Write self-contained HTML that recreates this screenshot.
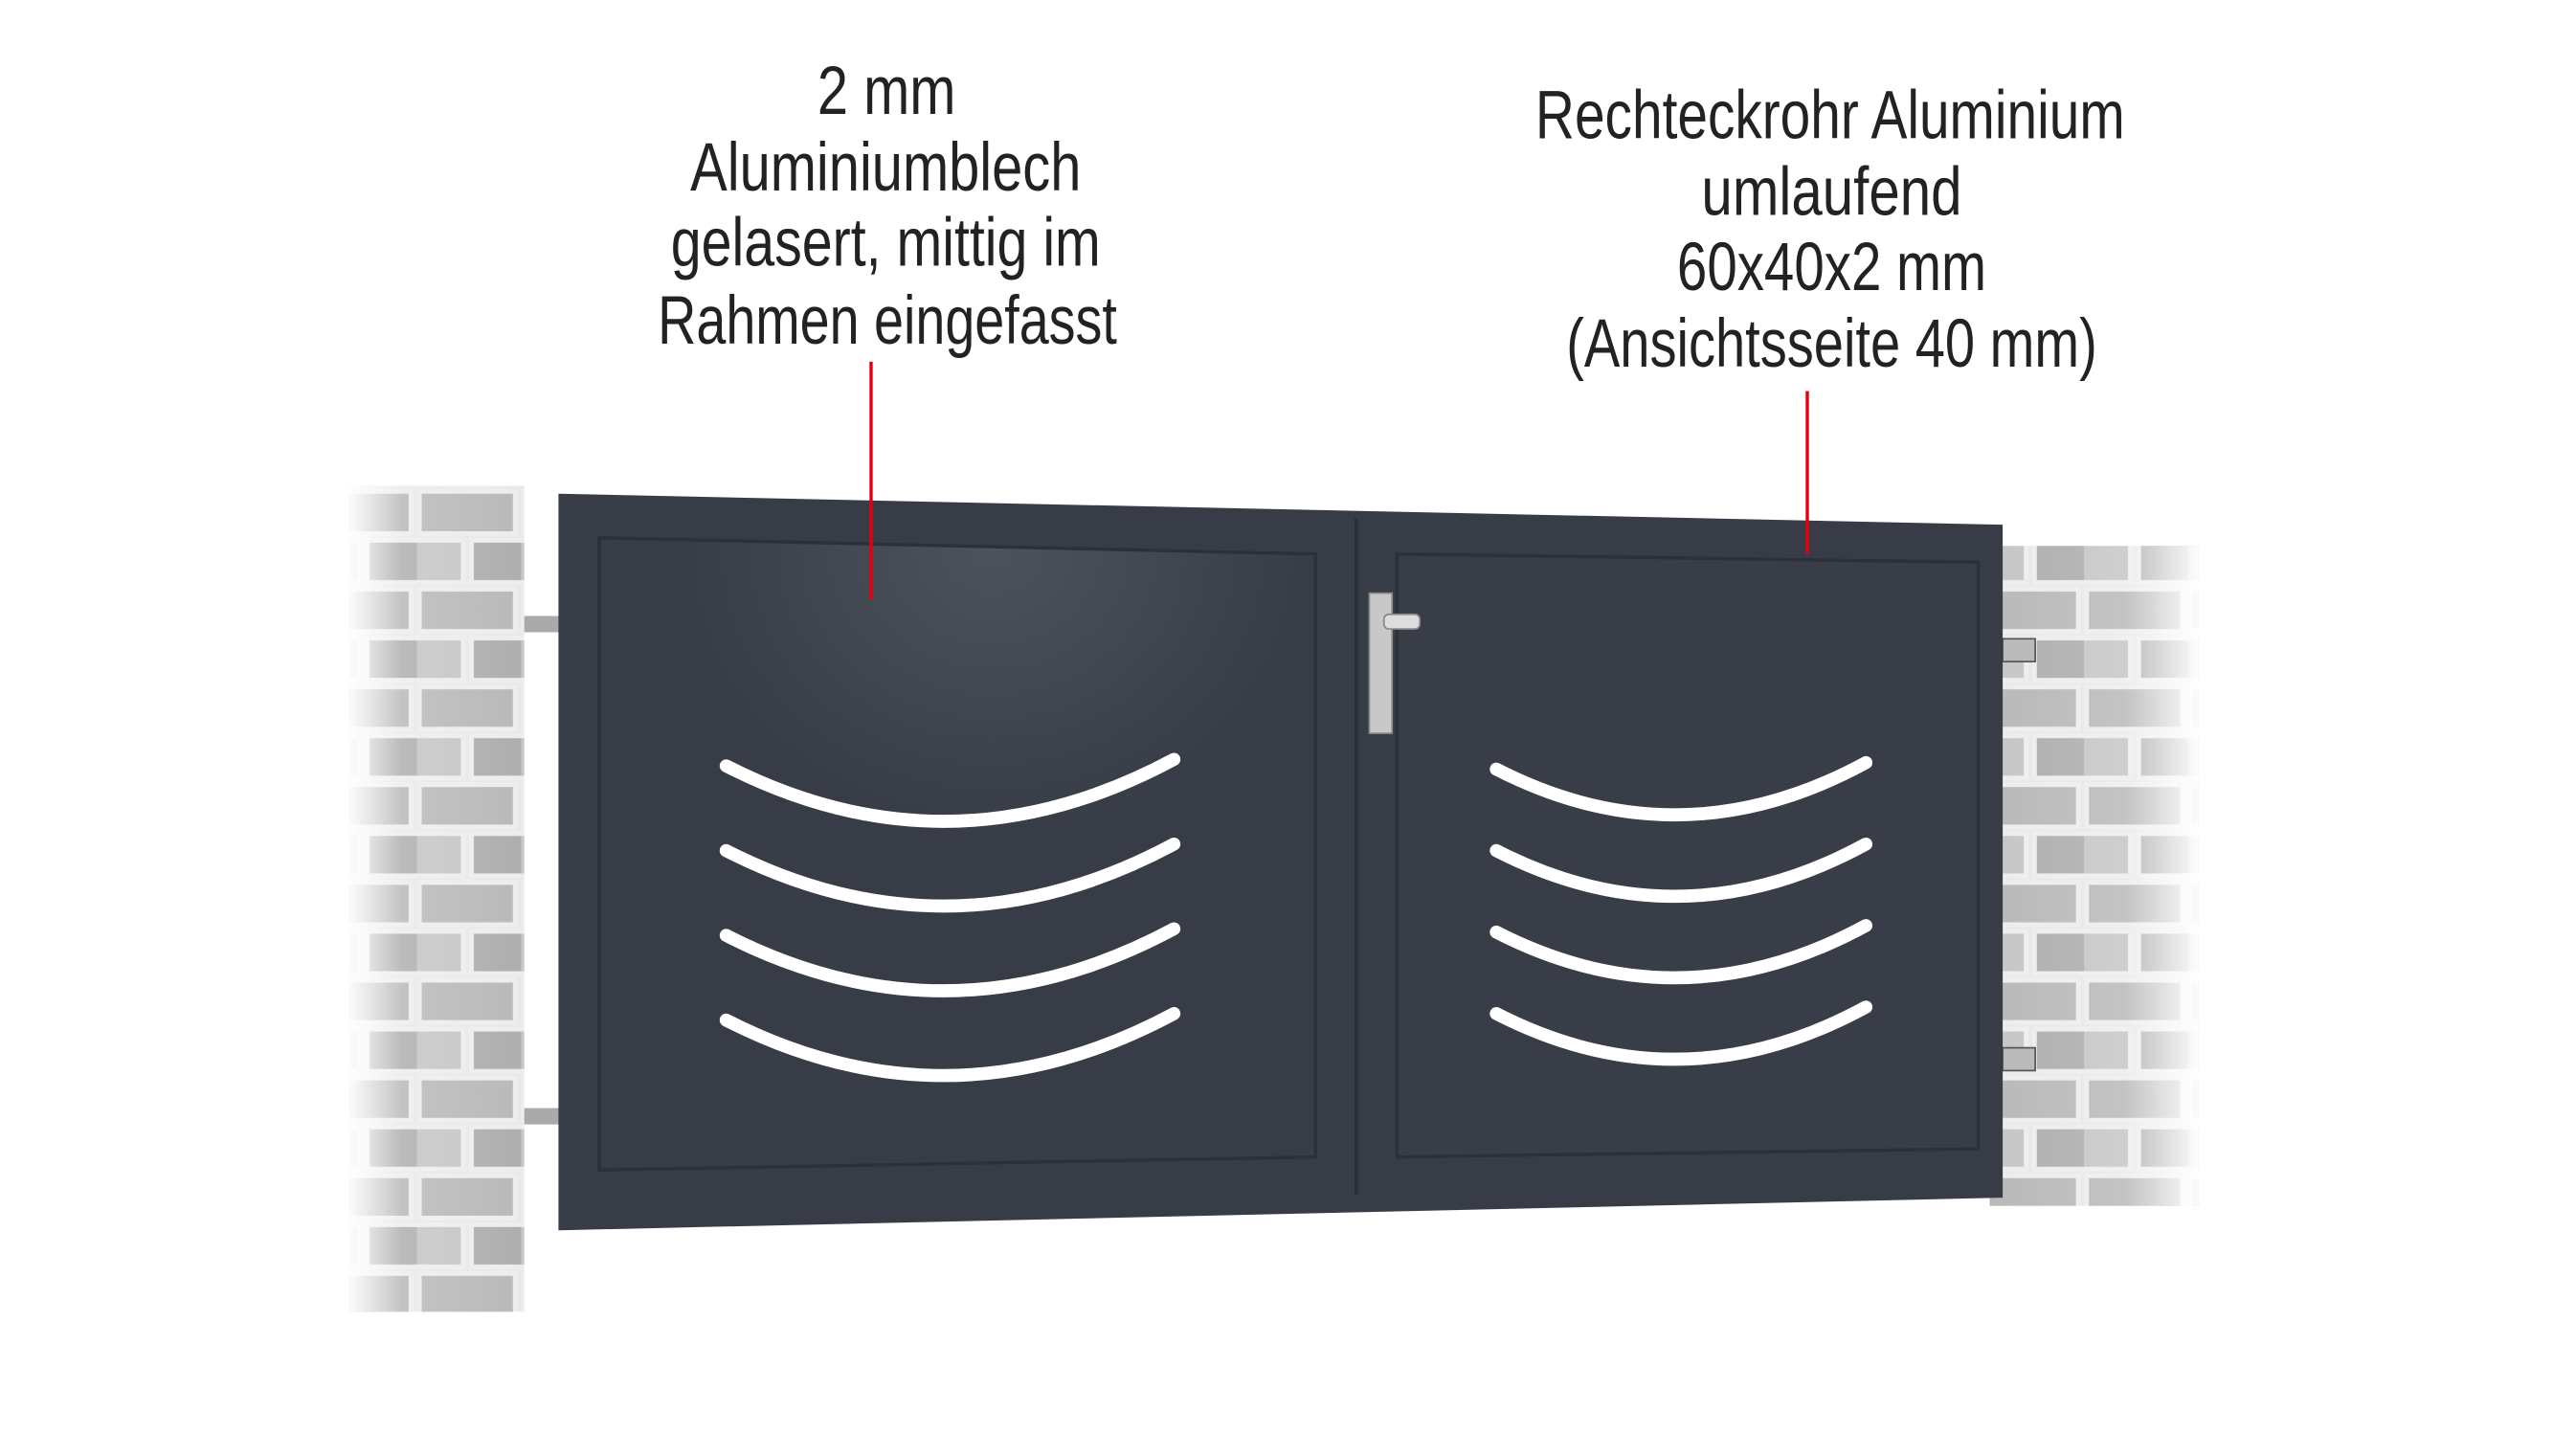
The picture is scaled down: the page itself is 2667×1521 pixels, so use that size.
<!DOCTYPE html>
<html><head><meta charset="utf-8">
<style>
html,body{margin:0;padding:0;background:#fff;}
svg{display:block}
text{font-family:"Liberation Sans",sans-serif;fill:#222;}
</style></head>
<body>
<svg width="2667" height="1521" viewBox="0 0 1568 893.5" preserveAspectRatio="none" xmlns="http://www.w3.org/2000/svg">
<defs>
<pattern id="brick" width="64" height="60" patternUnits="userSpaceOnUse">
<rect width="64" height="60" fill="#e8e8e8"/>
<rect x="1.5" y="1.5" width="59" height="26" fill="#b9b9b9" stroke="#ededed" stroke-width="3"/>
<rect x="-30.5" y="31.5" width="59" height="26" fill="#c6c6c6" stroke="#ededed" stroke-width="3"/>
<rect x="33.5" y="31.5" width="59" height="26" fill="#aeaeae" stroke="#ededed" stroke-width="3"/>
</pattern>
<linearGradient id="fadeL" x1="0" x2="1" y1="0" y2="0">
<stop offset="0" stop-color="#fff" stop-opacity="0.95"/>
<stop offset="0.3" stop-color="#fff" stop-opacity="0.15"/>
<stop offset="1" stop-color="#fff" stop-opacity="0"/>
</linearGradient>
<linearGradient id="fadeR" x1="1" x2="0" y1="0" y2="0">
<stop offset="0" stop-color="#fff" stop-opacity="0.95"/>
<stop offset="0.35" stop-color="#fff" stop-opacity="0.15"/>
<stop offset="1" stop-color="#fff" stop-opacity="0"/>
</linearGradient>
<radialGradient id="glow" cx="0.55" cy="0.02" r="0.45">
<stop offset="0" stop-color="#4d525c"/>
<stop offset="1" stop-color="#373c46"/>
</radialGradient>
</defs>

<rect x="215" y="298" width="107" height="507" fill="url(#brick)"/>
<rect x="215" y="298" width="107" height="507" fill="url(#fadeL)"/>
<rect x="1222" y="335" width="128" height="405" fill="url(#brick)"/>
<rect x="1222" y="335" width="128" height="405" fill="url(#fadeR)"/>

<rect x="322" y="378" width="22" height="10" fill="#aaa"/>
<rect x="322" y="680" width="22" height="10" fill="#aaa"/>
<rect x="1230" y="392" width="20" height="14" fill="#bbb" stroke="#555"/>
<rect x="1230" y="643" width="20" height="14" fill="#bbb" stroke="#555"/>

<polygon points="343,303 1230,322 1230,735 343,755" fill="#373c46"/>
<line x1="833" y1="318" x2="833" y2="733" stroke="#2a2e36" stroke-width="2"/>
<polygon points="368,330 808,340 808,710 368,718" fill="url(#glow)" stroke="#2c3039" stroke-width="2"/>
<polygon points="858,340 1215,345 1215,705 858,710" fill="#383d47" stroke="#2c3039" stroke-width="2"/>

<rect x="841" y="364" width="14" height="86" fill="#c8c8c8" stroke="#888" stroke-width="1"/>
<rect x="850" y="377" width="22" height="9" rx="3" fill="#ddd" stroke="#888"/>

<g fill="none" stroke="#fff" stroke-width="8" stroke-linecap="round">
<path d="M446,470 Q583,540 721,466"/>
<path d="M446,522 Q583,592 721,518"/>
<path d="M446,574 Q583,644 721,570"/>
<path d="M446,626 Q583,696 721,622"/>
<path d="M919,472 Q1032,530 1146,468"/>
<path d="M919,522 Q1032,580 1146,518"/>
<path d="M919,572 Q1032,630 1146,568"/>
<path d="M919,622 Q1032,680 1146,618"/>
</g>

<line x1="535" y1="222" x2="535" y2="368" stroke="#e0000f" stroke-width="2"/>
<line x1="1110" y1="240" x2="1110" y2="340" stroke="#e0000f" stroke-width="2"/>

<g font-size="42">
<text x="502" y="70" textLength="85" lengthAdjust="spacingAndGlyphs">2 mm</text>
<text x="424" y="117" textLength="240" lengthAdjust="spacingAndGlyphs">Aluminiumblech</text>
<text x="412" y="163" textLength="264" lengthAdjust="spacingAndGlyphs">gelasert, mittig im</text>
<text x="404" y="211" textLength="282" lengthAdjust="spacingAndGlyphs">Rahmen eingefasst</text>
<text x="943" y="85" textLength="362" lengthAdjust="spacingAndGlyphs">Rechteckrohr Aluminium</text>
<text x="1045" y="132" textLength="160" lengthAdjust="spacingAndGlyphs">umlaufend</text>
<text x="1030" y="178" textLength="190" lengthAdjust="spacingAndGlyphs">60x40x2 mm</text>
<text x="962" y="225" textLength="326" lengthAdjust="spacingAndGlyphs">(Ansichtsseite 40 mm)</text>
</g>
</svg>
</body></html>
